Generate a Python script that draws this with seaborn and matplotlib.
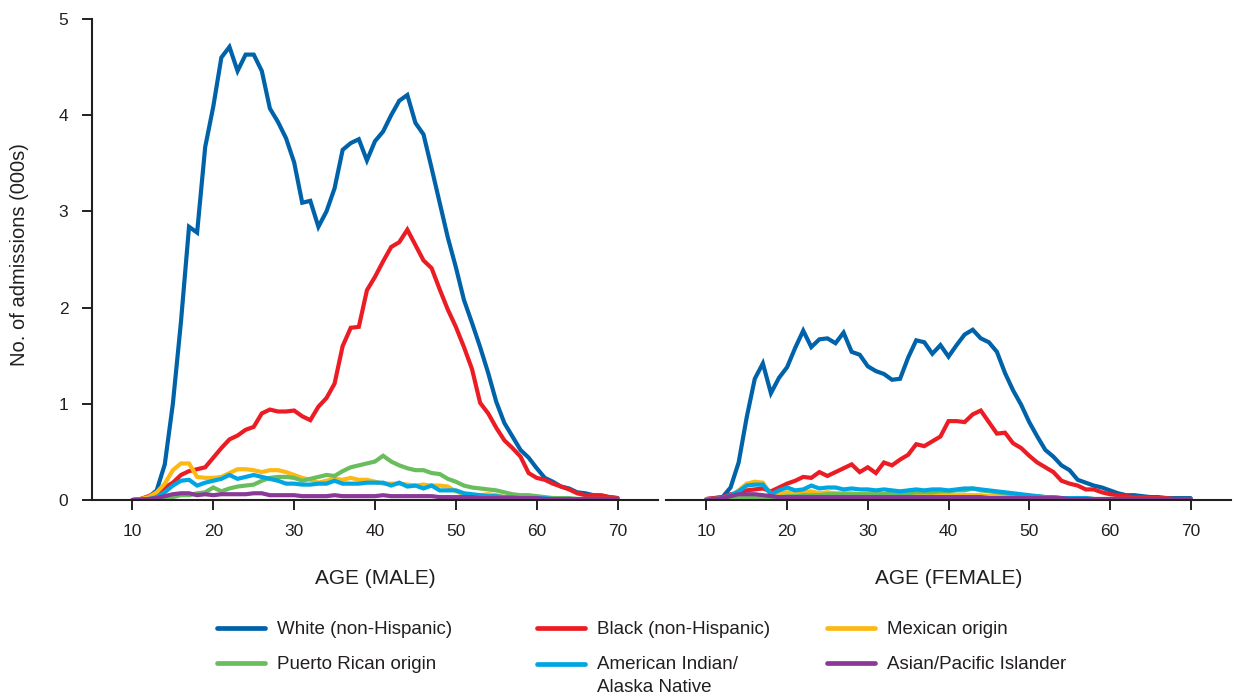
import numpy as np
import pandas as pd
import seaborn as sns
import matplotlib
matplotlib.use("Agg")
import matplotlib.pyplot as plt
from matplotlib.lines import Line2D
from matplotlib.legend_handler import HandlerLine2D

ages = list(range(10, 71))
groups = ["White (non-Hispanic)", "Black (non-Hispanic)", "Mexican origin",
          "Puerto Rican origin", "American Indian/\nAlaska Native", "Asian/Pacific Islander"]
colors = ["#0063A9", "#EC1C24", "#FDB913", "#6ABD5C", "#00A6E2", "#8A3A96"]
x_ticks = [10, 20, 30, 40, 50, 60, 70]
y_ticks = [0, 1, 2, 3, 4, 5]

male_white = [0, .01, .03, .10, .37, 1.00, 1.85, 2.84, 2.78, 3.67,
              4.09, 4.60, 4.71, 4.46, 4.63, 4.63, 4.46, 4.07, 3.93, 3.76,
              3.51, 3.09, 3.11, 2.84, 3.00, 3.24, 3.64, 3.71, 3.75, 3.53,
              3.73, 3.83, 4.00, 4.15, 4.21, 3.92, 3.80, 3.45, 3.09, 2.73,
              2.42, 2.08, 1.84, 1.59, 1.32, 1.02, .80, .66, .52, .44,
              .33, .23, .19, .14, .12, .08, .07, .05, .04, .03, .02]
male_black = [0, .01, .04, .07, .13, .18, .26, .30, .32, .34,
              .44, .54, .63, .67, .73, .76, .90, .94, .92, .92,
              .93, .87, .83, .97, 1.06, 1.21, 1.60, 1.79, 1.80, 2.18,
              2.32, 2.48, 2.63, 2.68, 2.81, 2.65, 2.49, 2.41, 2.19, 1.98,
              1.80, 1.59, 1.36, 1.01, .90, .75, .62, .54, .45, .28,
              .23, .21, .17, .14, .11, .07, .05, .05, .05, .03, .02]
male_mexican = [0, .01, .03, .08, .17, .31, .38, .38, .24, .23,
                .23, .24, .28, .32, .32, .31, .29, .31, .31, .29,
                .26, .23, .21, .18, .20, .22, .21, .23, .21, .21,
                .19, .17, .17, .17, .16, .15, .16, .15, .15, .14,
                .09, .06, .05, .05, .06, .05, .03, .03, .02, .02,
                .02, .01, .01, .01, .01, .01, .01, .01, .01, .01, .01]
male_pr = [0, 0, .005, .01, .02, .03, .05, .05, .07, .08,
           .13, .09, .12, .14, .15, .16, .20, .23, .24, .24,
           .23, .20, .22, .24, .26, .25, .30, .34, .36, .38,
           .40, .46, .40, .36, .33, .31, .31, .28, .27, .22,
           .19, .15, .13, .12, .11, .10, .08, .06, .05, .05,
           .04, .03, .02, .02, .02, .01, .01, .01, .01, .01, .01]
male_amind = [0, .005, .01, .03, .08, .15, .20, .21, .15, .18,
              .20, .22, .26, .22, .24, .26, .24, .22, .20, .17,
              .17, .16, .16, .17, .17, .20, .17, .17, .17, .18,
              .18, .18, .15, .18, .14, .15, .12, .15, .10, .10,
              .10, .07, .06, .05, .04, .04, .03, .03, .02, .02,
              .02, .02, .01, .01, .01, .01, .01, .01, .01, .01, .01]
male_asian = [0, .005, .01, .02, .04, .06, .07, .07, .05, .06,
              .05, .06, .06, .06, .06, .07, .07, .05, .05, .05,
              .05, .04, .04, .04, .04, .05, .04, .04, .04, .04,
              .04, .05, .04, .04, .04, .04, .04, .04, .03, .03,
              .03, .03, .03, .02, .02, .02, .02, .02, .02, .02,
              .02, .01, .01, .01, .01, .01, .01, .01, .01, .01, .01]

female_white = [.01, .02, .03, .13, .39, .86, 1.26, 1.42, 1.11, 1.27,
                1.38, 1.58, 1.76, 1.59, 1.67, 1.68, 1.63, 1.74, 1.54, 1.51,
                1.39, 1.34, 1.31, 1.25, 1.26, 1.48, 1.66, 1.64, 1.52, 1.61,
                1.49, 1.61, 1.72, 1.77, 1.68, 1.64, 1.54, 1.32, 1.14, .99,
                .81, .66, .52, .45, .36, .31, .21, .18, .15, .13,
                .10, .07, .05, .05, .04, .03, .03, .02, .02, .02, .02]
female_black = [.01, .02, .03, .06, .07, .10, .11, .12, .09, .13,
                .17, .20, .24, .23, .29, .25, .29, .33, .37, .29,
                .34, .28, .39, .36, .42, .47, .58, .56, .61, .66,
                .82, .82, .81, .89, .93, .81, .69, .70, .59, .54,
                .46, .39, .34, .29, .20, .17, .15, .11, .11, .08,
                .06, .05, .04, .03, .03, .02, .02, .02, .01, .01, .01]
female_mexican = [.01, .01, .02, .04, .10, .17, .19, .18, .06, .07,
                  .08, .07, .08, .09, .07, .08, .07, .07, .07, .06,
                  .07, .06, .06, .06, .05, .06, .06, .06, .05, .05,
                  .05, .05, .05, .05, .05, .04, .04, .04, .03, .03,
                  .03, .02, .02, .02, .02, .01, .01, .01, .01, .01,
                  .01, .01, .01, .01, .01, .01, .01, .01, .01, .01, .01]
female_pr = [0, .005, .01, .01, .02, .03, .03, .03, .02, .03,
             .04, .04, .05, .05, .05, .06, .06, .06, .06, .06,
             .06, .06, .06, .07, .07, .07, .08, .08, .08, .09,
             .09, .10, .10, .12, .10, .09, .08, .07, .06, .05,
             .04, .04, .03, .03, .02, .02, .02, .02, .01, .01,
             .01, .01, .01, .01, .01, .01, .01, .01, .01, .01, .01]
female_amind = [.005, .01, .02, .05, .09, .15, .16, .16, .06, .10,
                .13, .10, .11, .15, .12, .13, .13, .11, .12, .11,
                .11, .10, .11, .10, .09, .10, .11, .10, .11, .11,
                .10, .11, .12, .12, .11, .10, .09, .08, .07, .06,
                .05, .04, .03, .03, .02, .02, .02, .02, .01, .01,
                .01, .01, .01, .01, .01, .01, .01, .01, .01, .01, .01]
female_asian = [0, .01, .02, .04, .06, .06, .06, .05, .04, .03,
                .03, .03, .03, .03, .03, .03, .03, .03, .03, .03,
                .03, .03, .03, .03, .03, .03, .03, .03, .03, .03,
                .03, .03, .03, .03, .03, .02, .02, .02, .02, .02,
                .02, .02, .02, .02, .02, .01, .01, .01, .01, .01,
                .01, .01, .01, .01, .01, .01, .01, .01, .01, .01, .01]

male_series = [male_white, male_black, male_mexican, male_pr, male_amind, male_asian]
female_series = [female_white, female_black, female_mexican, female_pr, female_amind, female_asian]

rows = []
for sex, series in (("Male", male_series), ("Female", female_series)):
    for g, vals in zip(groups, series):
        for a, v in zip(ages, vals):
            rows.append({"sex": sex, "group": g, "age": a, "value": v})
df = pd.DataFrame(rows)

sns.set_theme(style="white")
plt.rcParams["font.family"] = ["Liberation Sans", "DejaVu Sans"]
ink = "#231F20"

fig = plt.figure(figsize=(12.35, 6.98), dpi=100)
W, H = 1235, 698
ax1 = fig.add_axes([92 / W, 1 - 500 / H, 566 / W, 481 / H])
ax2 = fig.add_axes([666 / W, 1 - 500 / H, 565 / W, 481 / H])

lw = 3.0
for ax, sex in ((ax1, "Male"), (ax2, "Female")):
    sns.lineplot(data=df[df.sex == sex], x="age", y="value", hue="group",
                 hue_order=groups, palette=colors, ax=ax, legend=False,
                 linewidth=lw, estimator=None, solid_joinstyle="miter")
    ax.set_xlim(5, 75)
    ax.set_ylim(0, 5)
    ax.set_xticks(x_ticks)
    ax.set_xticklabels([str(t) for t in x_ticks])
    for s in ("top", "right"):
        ax.spines[s].set_visible(False)
    ax.spines["bottom"].set_color(ink)
    ax.spines["bottom"].set_linewidth(1.5)
    ax.tick_params(axis="x", direction="out", length=7, width=1.4, color=ink,
                   pad=10, labelsize=12.5, labelcolor=ink, bottom=True)
    ax.patch.set_alpha(0)

ax1.spines["left"].set_color(ink)
ax1.spines["left"].set_linewidth(1.5)
ax1.set_yticks(y_ticks)
ax1.set_yticklabels([str(t) for t in y_ticks])
ax1.tick_params(axis="y", direction="out", length=7, width=1.4, color=ink,
                pad=10, labelsize=12.5, labelcolor=ink, left=True)
ax1.set_ylabel("No. of admissions (000s)", fontsize=14.5, color=ink, labelpad=18)
ax1.yaxis.set_label_coords(20 / W - 92 / W, 0.5, transform=fig.transFigure)
ax1.yaxis.label.set_verticalalignment("center")
ax1.yaxis.label.set_position((20 / W, 1 - 255 / H))

ax2.spines["left"].set_visible(False)
ax2.set_yticks([])
ax2.set_ylabel("")

ax1.set_xlabel("AGE (MALE)", fontsize=15, color=ink, labelpad=22)
ax2.set_xlabel("AGE (FEMALE)", fontsize=15, color=ink, labelpad=22)


class RaisedLine(HandlerLine2D):
    def __init__(self, dy, **kw):
        super().__init__(**kw)
        self.dy = dy

    def create_artists(self, legend, orig_handle, xdescent, ydescent, width,
                       height, fontsize, trans):
        arts = super().create_artists(legend, orig_handle, xdescent, ydescent,
                                      width, height, fontsize, trans)
        for a in arts:
            a.set_ydata([y + self.dy for y in a.get_ydata()])
        return arts


handles = [Line2D([0], [0], color=c, lw=3.4) for c in colors]
col_x = [217 / W, 537 / W, 827 / W]
for ci in range(3):
    idx = [ci, ci + 3]
    hmap = {}
    if ci == 1:
        hmap = {handles[4]: RaisedLine(9.0)}
    leg = fig.legend([handles[i] for i in idx], [groups[i] for i in idx],
                     loc="upper left", bbox_to_anchor=(col_x[ci], 1 - 621 / H),
                     frameon=False, fontsize=13.5, handlelength=2.55,
                     handletextpad=0.65, labelspacing=0.95, borderpad=0,
                     borderaxespad=0, labelcolor=ink, handler_map=hmap)
    for t in leg.get_texts():
        t.set_linespacing(1.5)

fig.savefig("out.png", dpi=100)
